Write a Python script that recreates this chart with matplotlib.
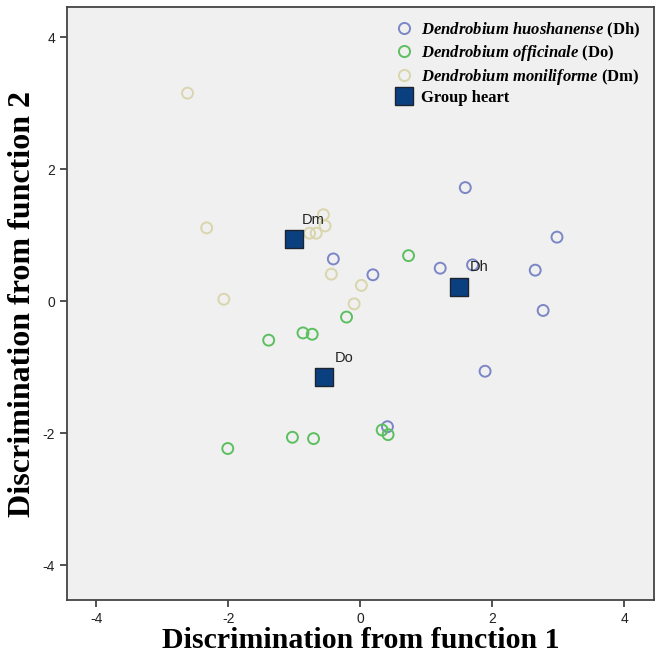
import matplotlib
matplotlib.use('Agg')
import matplotlib.pyplot as plt
from matplotlib.lines import Line2D

plt.rcParams['mathtext.fontset'] = 'custom'
plt.rcParams['mathtext.rm'] = 'Liberation Serif:bold'
plt.rcParams['mathtext.it'] = 'Liberation Serif:bold:italic'
plt.rcParams['mathtext.bf'] = 'Liberation Serif:bold'
plt.rcParams['axes.unicode_minus'] = False

# discriminant scores
dh_x = [-0.41, 0.19, 1.21, 1.59, 2.98, 2.65, 2.77, 1.89, 1.70, 0.41]
dh_y = [0.64, 0.40, 0.50, 1.72, 0.97, 0.47, -0.14, -1.06, 0.55, -1.90]
do_x = [0.73, -0.21, -0.87, -0.73, -1.39, -2.01, -1.03, -0.71, 0.33, 0.42]
do_y = [0.69, -0.24, -0.48, -0.50, -0.59, -2.23, -2.06, -2.08, -1.95, -2.02]
dm_x = [-2.33, -0.56, -0.535, -0.77, -0.67, -0.44, 0.015, -0.095, -2.07, -2.62]
dm_y = [1.11, 1.31, 1.14, 1.03, 1.03, 0.41, 0.24, -0.04, 0.03, 3.15]

# group centroids
heart_names = ['Dm', 'Do', 'Dh']
heart_x = [-1.01, -0.545, 1.50]
heart_y = [0.94, -1.147, 0.22]

fig = plt.figure(figsize=(6.68, 6.62), dpi=100)
ax = fig.add_axes([0.100, 0.094, 0.879, 0.895])
ax.set_facecolor('#f0f0f0')

ax.scatter(dh_x, dh_y, s=62, facecolors='none', edgecolors='#7b86c6', linewidths=1.4, zorder=3)
ax.scatter(do_x, do_y, s=62, facecolors='none', edgecolors='#5cbf60', linewidths=1.4, zorder=3)
ax.scatter(dm_x, dm_y, s=62, facecolors='none', edgecolors='#d9d5ad', linewidths=1.4, zorder=3)
ax.scatter(heart_x, heart_y, s=150, marker='s', color='#0b4080', edgecolors='#1c2430', linewidths=1.0, zorder=4)
for name, x, y in zip(heart_names, heart_x, heart_y):
    ax.annotate(name, (x, y), xytext=(14, 14), textcoords='offset points',
                ha='center', va='center', fontsize=10.5, family='Liberation Sans', color='#222222', zorder=5)

ax.set_xlim(-4.45, 4.45)
ax.set_ylim(-4.52, 4.45)
ax.set_xticks([-4, -2, 0, 2, 4])
ax.set_yticks([-4, -2, 0, 2, 4])
ax.tick_params(direction='out', length=5, width=1.2, color='#333333', labelsize=10, labelcolor='#222222')
for lab in ax.get_xticklabels() + ax.get_yticklabels():
    lab.set_family('Liberation Sans')
for sp in ax.spines.values():
    sp.set_color('#444444')
    sp.set_linewidth(1.3)

ax.set_xlabel('Discrimination from function 1', family='Liberation Serif', fontweight='bold', fontsize=21.5, labelpad=1)
ax.set_ylabel('Discrimination from function 2', family='Liberation Serif', fontweight='bold', fontsize=23, labelpad=4)

handles = [
    Line2D([], [], ls='none', marker='o', ms=8, mfc='none', mec='#7b86c6', mew=1.4),
    Line2D([], [], ls='none', marker='o', ms=8, mfc='none', mec='#5cbf60', mew=1.4),
    Line2D([], [], ls='none', marker='o', ms=8, mfc='none', mec='#d9d5ad', mew=1.4),
    Line2D([], [], ls='none', marker='s', ms=13, mfc='#0b4080', mec='#1c2430', mew=1.0),
]
labels = [
    r'$\mathit{Dendrobium\ huoshanense}$ (Dh)',
    r'$\mathit{Dendrobium\ officinale}$ (Do)',
    r'$\mathit{Dendrobium\ moniliforme}$ (Dm)',
    'Group heart',
]
ax.legend(handles, labels, loc='upper right', frameon=False, handlelength=1.0, handletextpad=0.5,
          labelspacing=0.2, borderaxespad=0.4,
          prop={'family': 'Liberation Serif', 'weight': 'bold', 'size': 12})

plt.savefig('out.png', dpi=100)
